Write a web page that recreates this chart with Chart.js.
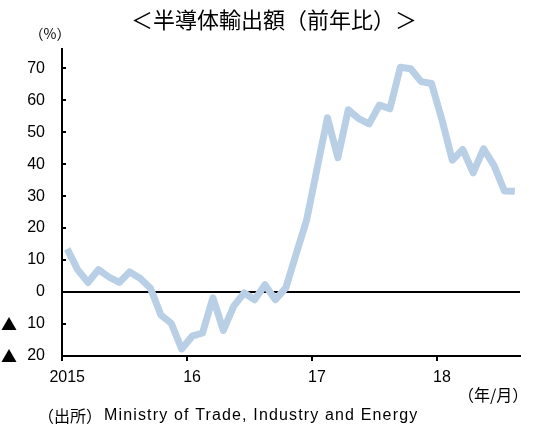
<!DOCTYPE html>
<html>
<head>
<meta charset="utf-8">
<script src="https://cdn.jsdelivr.net/npm/chart.js@4"></script>
<style>
  html, body { margin: 0; padding: 0; background: #fff; }
  #wrap { width: 533px; height: 428px; }
</style>
</head>
<body>
<div id="wrap"><canvas id="chipExportChart" width="533" height="428"></canvas></div>
<script>
// 月次カテゴリ (2015/01 - 2018/08)
const months = [
    '2015/01','2015/02','2015/03','2015/04','2015/05','2015/06','2015/07','2015/08','2015/09','2015/10','2015/11','2015/12',
    '2016/01','2016/02','2016/03','2016/04','2016/05','2016/06','2016/07','2016/08','2016/09','2016/10','2016/11','2016/12',
    '2017/01','2017/02','2017/03','2017/04','2017/05','2017/06','2017/07','2017/08','2017/09','2017/10','2017/11','2017/12',
    '2018/01','2018/02','2018/03','2018/04','2018/05','2018/06','2018/07','2018/08'
];

// 半導体輸出額 前年比 (%)
const exportYoY = [
    13.5, 7.0, 3.0, 7.0, 4.7, 3.0, 6.3, 4.3, 1.2, -7.2, -9.8, -17.8,
    -13.8, -12.8, -1.8, -12.0, -4.4, -0.3, -2.4, 2.3, -2.4, 1.3, 12.0, 22.5,
    38.5, 54.5, 42.0, 57.0, 54.2, 52.6, 58.5, 57.3, 70.3, 69.8, 65.8, 65.2,
    53.9, 41.2, 44.6, 37.3, 44.8, 39.6, 31.6, 31.5
];

// x軸の年ラベル (1月の位置)
const yearTicks = ['2015', '16', '17', '18'];
// y軸の目盛
const yTickValues = [-20, -10, 0, 10, 20, 30, 40, 50, 60, 70];

const lineColor = '#b9cfe6';

// 見出し・単位・出所と内向きの目盛線
const extrasPlugin = {
    id: 'extras',
    afterDraw(chart) {
        const ctx = chart.ctx;
        const x = chart.scales.x;
        const y = chart.scales.y;
        const area = chart.chartArea;
        ctx.save();
        ctx.strokeStyle = '#000';
        ctx.lineWidth = 2;

        // y軸: 目盛は内側
        yTickValues.forEach(v => {
            if (v === -20) return;
            const py = Math.round(y.getPixelForValue(v));
            ctx.beginPath();
            ctx.moveTo(area.left, py);
            ctx.lineTo(area.left + 4, py);
            ctx.stroke();
        });

        // x軸: 年の区切り (カテゴリの左端)
        const step = x.getPixelForValue(1) - x.getPixelForValue(0);
        months.forEach((m, i) => {
            if (i % 12 !== 0) return;
            const px = Math.round(x.getPixelForValue(i) - step / 2);
            ctx.beginPath();
            ctx.moveTo(px, area.bottom);
            ctx.lineTo(px, area.bottom + 5);
            ctx.stroke();
        });

        ctx.fillStyle = '#000';
        ctx.textBaseline = 'middle';

        // マイナス値の▲
        ctx.font = "16px 'Noto Sans CJK JP'";
        ctx.textAlign = 'left';
        yTickValues.forEach(v => {
            if (v >= 0) return;
            ctx.fillText('▲', 1, y.getPixelForValue(v));
        });

        ctx.font = "22px 'Noto Sans CJK JP'";
        ctx.textAlign = 'center';
        ctx.fillText('＜半導体輸出額（前年比）＞', 274, 20);

        ctx.font = "14px 'Noto Sans CJK JP'";
        ctx.fillText('（%）', 50, 34);

        ctx.textAlign = 'left';
        ctx.font = "16px 'Noto Sans CJK JP'";
        ctx.fillText('（年/月）', 458, 395);

        ctx.font = "16px 'Noto Sans CJK JP'";
        ctx.fillText('（出所）', 38, 416);
        ctx.font = "16px 'Liberation Sans'";
        ctx.letterSpacing = '1.15px';
        ctx.fillText('Ministry of Trade, Industry and Energy', 104, 416);
        ctx.restore();
    }
};

function renderChipExportChart() {
    const ctx = document.getElementById('chipExportChart').getContext('2d');
    Chart.defaults.font.family = "'Liberation Sans', 'Noto Sans CJK JP', sans-serif";
    Chart.defaults.color = '#000';

    new Chart(ctx, {
        type: 'line',
        data: {
            labels: months,
            datasets: [{
                data: exportYoY,
                borderColor: lineColor,
                borderWidth: 7,
                borderJoinStyle: 'round',
                borderCapStyle: 'butt',
                pointRadius: 0,
                tension: 0,
                fill: false
            }]
        },
        options: {
            responsive: false,
            animation: false,
            layout: {
                padding: { top: 49, right: 13, bottom: 0, left: 0 }
            },
            plugins: {
                legend: { display: false },
                tooltip: { enabled: false }
            },
            scales: {
                x: {
                    type: 'category',
                    offset: true,
                    afterFit(scale) { scale.height = 72; },
                    grid: { display: true, drawOnChartArea: false, drawTicks: false },
                    border: { display: true, color: '#000', width: 2 },
                    ticks: {
                        autoSkip: false,
                        maxRotation: 0,
                        padding: 12,
                        font: { size: 16 },
                        callback: function (value, index) {
                            return index % 12 === 0 ? yearTicks[index / 12] : null;
                        }
                    }
                },
                y: {
                    min: -20,
                    max: 76,
                    afterFit(scale) { scale.width = 62; },
                    afterBuildTicks(scale) {
                        scale.ticks = yTickValues.map(v => ({ value: v }));
                    },
                    grid: {
                        drawTicks: false,
                        lineWidth: 2,
                        color: c => (c.tick && c.tick.value === 0 ? '#000' : 'rgba(0,0,0,0)')
                    },
                    border: { display: true, color: '#000', width: 2 },
                    ticks: {
                        padding: 17,
                        font: { size: 16 },
                        callback: function (value) {
                            return String(Math.abs(value));
                        }
                    }
                }
            }
        },
        plugins: [extrasPlugin]
    });
}

renderChipExportChart();
</script>
</body>
</html>
